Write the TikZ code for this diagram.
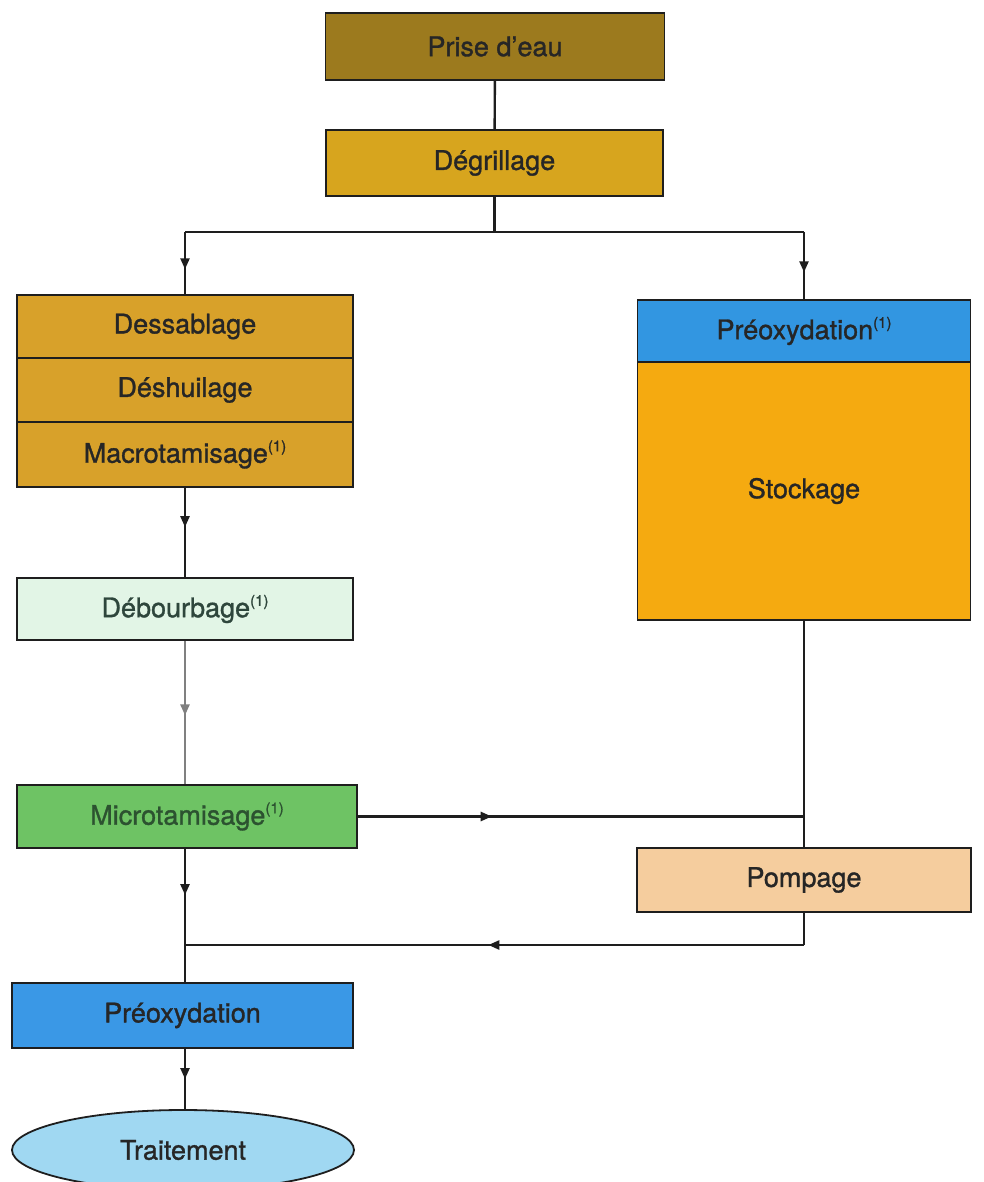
\documentclass[tikz,border=0pt]{standalone}
\usepackage{fontspec}
\setmainfont[FakeBold=1.2]{TeX Gyre Heros}
\usetikzlibrary{decorations.markings,arrows.meta,shapes.geometric}
\definecolor{cPrise}{HTML}{9C7A1E}
\definecolor{cDegr}{HTML}{D7A51E}
\definecolor{cLeft}{HTML}{D8A12A}
\definecolor{cPreoxA}{HTML}{3296E1}
\definecolor{cStock}{HTML}{F5AA10}
\definecolor{cDebour}{HTML}{E2F5E6}
\definecolor{cMicro}{HTML}{6EC364}
\definecolor{cPomp}{HTML}{F5CD9E}
\definecolor{cPreox}{HTML}{3A98E6}
\definecolor{cTrait}{HTML}{A0D8F2}
\definecolor{cLine}{HTML}{1E1E1E}
\definecolor{cTxtDeb}{HTML}{2E463C}
\definecolor{cTxtMic}{HTML}{2C5230}
\newcommand{\one}{\raisebox{0.42em}{\fontsize{15}{16}\selectfont(1)}}
\tikzset{
  boxnode/.style={draw=cLine, line width=1.8pt, rectangle, inner sep=0pt,
    font=\fontsize{27}{32}\selectfont, text=black!85},
  conn/.style={draw=cLine, line width=2.4pt},
  midarrow/.style={conn, postaction={decorate}, decoration={markings,
    mark=at position #1 with {\arrow{Triangle[width=9pt,length=11pt]}}}},
  midarrow/.default=0.5
}
\begin{document}
\begin{tikzpicture}[x=1pt,y=-1pt]
\useasboundingbox[fill=white] (0,0) rectangle (983,1182);
% nodes
\node[boxnode, fill=cPrise, minimum width=339pt, minimum height=67pt] (prise) at (495,46.5) {Prise d'eau};
\node[boxnode, fill=cDegr, minimum width=337pt, minimum height=66pt] (degr) at (494.5,163) {Dégrillage};
\node[boxnode, fill=cLeft, minimum width=336pt, minimum height=63pt] (dess) at (185,326.5) {Dessablage};
\node[boxnode, fill=cLeft, minimum width=336pt, minimum height=64pt] (desh) at (185,390) {Déshuilage};
\node[boxnode, fill=cLeft, minimum width=336pt, minimum height=65pt] (macro) at (185,454.5) {Macrotamisage\one};
\node[boxnode, fill=cPreoxA, minimum width=333pt, minimum height=62pt] (preoxA) at (804,331) {Préoxydation\one};
\node[boxnode, fill=cStock, minimum width=333pt, minimum height=258pt] (stock) at (804,491) {Stockage};
\node[boxnode, fill=cDebour, minimum width=336pt, minimum height=62pt, text=cTxtDeb] (debour) at (185,609) {Débourbage\one};
\node[boxnode, fill=cMicro, minimum width=340pt, minimum height=63pt, text=cTxtMic] (micro) at (187,816.5) {Microtamisage\one};
\node[boxnode, fill=cPomp, minimum width=334pt, minimum height=64pt] (pomp) at (804,880) {Pompage};
\node[boxnode, fill=cPreox, minimum width=341pt, minimum height=65pt] (preox) at (182.5,1015.5) {Préoxydation};
\node[boxnode, ellipse, fill=cTrait, minimum width=342pt, minimum height=80pt] (trait) at (183,1150) {Traitement};
% coordinates
\coordinate (jm) at (494.5,232);
\coordinate (jl) at (185,232);
\coordinate (jr) at (804,232);
\coordinate (jmicro) at (804,816.5);
\coordinate (jpomp) at (804,945);
\coordinate (jleft) at (185,945);
% connectors
\draw[conn] (prise) -- (degr);
\draw[conn] (degr.south) -- (jm);
\draw[conn] (jl) -- (jr);
\draw[midarrow=0.6] (jl) -- (dess.north);
\draw[midarrow=0.6] (jr) -- (preoxA.north);
\draw[midarrow=0.44] (macro.south) -- (debour.north);
\draw[midarrow=0.52, draw=gray] (debour.south) -- (debour.south |- micro.north);
\draw[conn] (stock.south) -- (pomp.north);
\draw[midarrow=0.3] (micro.east) -- (jmicro);
\draw[conn] (pomp.south) -- (jpomp);
\draw[midarrow=0.51] (jpomp) -- (jleft);
\draw[midarrow=0.48] (micro.south -| jleft) -- (jleft);
\draw[conn] (jleft) -- (jleft |- preox.north);
\draw[midarrow=0.5] (jleft |- preox.south) -- (jleft |- trait.north);
\end{tikzpicture}
\end{document}
